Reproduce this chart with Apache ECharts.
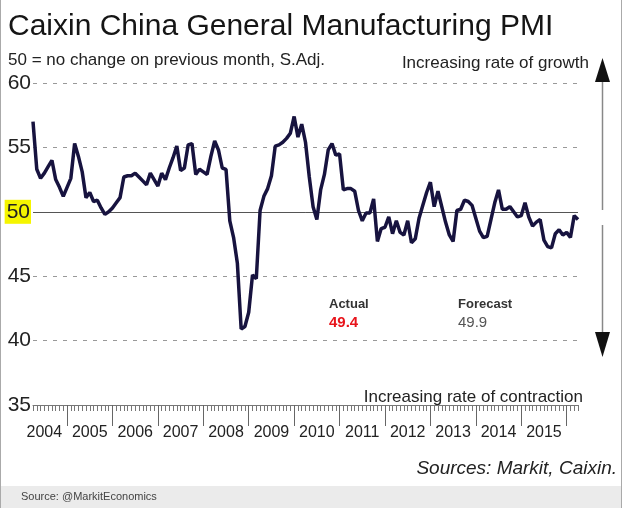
<!DOCTYPE html>
<html><head><meta charset="utf-8">
<script src="https://cdn.jsdelivr.net/npm/echarts@6/dist/echarts.min.js"></script>
<style>html,body{margin:0;padding:0;background:#fff}#c{width:623px;height:508px}</style>
</head><body><div id="c"></div>
<script>
// PMI values by year (2004 starts in April, 2016 ends in April)
const pmi2004 = [57.0, 53.3, 52.6, 53.0, 53.5, 54.0, 52.5, 51.9, 51.2];
const pmi2005 = [51.9, 52.6, 55.3, 54.3, 53.1, 51.1, 51.5, 50.8, 50.9, 50.3, 49.8, 50.0];
const pmi2006 = [50.3, 50.7, 51.1, 52.7, 52.8, 52.8, 53.0, 52.7, 52.4, 52.1, 53.0, 52.5];
const pmi2007 = [52.0, 53.0, 52.5, 53.4, 54.2, 55.1, 53.2, 53.4, 55.2, 55.3, 52.9, 53.3];
const pmi2008 = [53.1, 52.9, 54.3, 55.5, 54.8, 53.4, 53.3, 49.3, 48.0, 46.0, 40.9, 41.1];
const pmi2009 = [42.2, 45.1, 44.8, 50.1, 51.2, 51.8, 52.8, 55.1, 55.2, 55.4, 55.7, 56.1];
const pmi2010 = [57.4, 55.8, 56.8, 55.4, 52.7, 50.4, 49.4, 51.7, 52.9, 54.8, 55.3, 54.4];
const pmi2011 = [54.5, 51.7, 51.8, 51.8, 51.6, 50.1, 49.3, 49.9, 49.9, 51.0, 47.7, 48.7];
const pmi2012 = [48.8, 49.6, 48.3, 49.3, 48.4, 48.2, 49.3, 47.6, 47.9, 49.5, 50.5, 51.5];
const pmi2013 = [52.3, 50.4, 51.6, 50.4, 49.2, 48.2, 47.7, 50.1, 50.2, 50.9, 50.8, 50.5];
const pmi2014 = [49.5, 48.5, 48.0, 48.1, 49.4, 50.7, 51.7, 50.2, 50.2, 50.4, 50.0, 49.6];
const pmi2015 = [49.7, 50.7, 49.6, 48.9, 49.2, 49.4, 47.8, 47.3, 47.2, 48.3, 48.6, 48.2];
const pmi2016 = [48.4, 48.0, 49.7, 49.4];

const yTicks = [35, 40, 45, 50, 55, 60];
const yearLabels = ['2004','2005','2006','2007','2008','2009','2010','2011','2012','2013','2014','2015'];
const actualValue = '49.4';
const forecastValue = '49.9';

const values = [].concat(pmi2004, pmi2005, pmi2006, pmi2007, pmi2008, pmi2009, pmi2010,
  pmi2011, pmi2012, pmi2013, pmi2014, pmi2015, pmi2016);
const months = [];
{
  let y = 2004, m = 4;
  for (let i = 0; i < values.length; i++) {
    months.push(y + '-' + (m < 10 ? '0' + m : m));
    m++; if (m > 12) { m = 1; y++; }
  }
}

const FONT = '"Liberation Sans", Arial, Helvetica, sans-serif';
const chart = echarts.init(document.getElementById('c'), null, {renderer: 'canvas'});
chart.setOption({
  backgroundColor: '#ffffff',
  animation: false,
  textStyle: {fontFamily: FONT},
  grid: {left: 33, right: 45, top: 83, bottom: 103, containLabel: false, outerBoundsMode: 'none'},
  xAxis: [
    {
      type: 'category', data: months, boundaryGap: false,
      axisLine: {show: true, lineStyle: {color: '#777', width: 1}},
      axisTick: {show: true, interval: 0, length: 6, lineStyle: {color: '#777', width: 1}},
      axisLabel: {show: false}, splitLine: {show: false}
    },
    {
      type: 'category', data: months, boundaryGap: false, position: 'bottom',
      axisLine: {show: false},
      axisTick: {show: true, length: 21, interval: (i, v) => v.endsWith('-01'), lineStyle: {color: '#666', width: 1}},
      axisLabel: {
        show: true, interval: (i, v) => v.endsWith('-07') && yearLabels.includes(v.slice(0, 4)),
        formatter: v => v.slice(0, 4), fontSize: 16, color: '#222', margin: 20, fontFamily: FONT
      },
      splitLine: {show: false}
    }
  ],
  yAxis: {
    type: 'value', min: yTicks[0], max: yTicks[yTicks.length - 1], interval: 5,
    axisLine: {show: false}, axisTick: {show: false},
    axisLabel: {
      fontSize: 21, color: '#222', margin: 2, fontFamily: FONT,
      formatter: v => v === 50 ? '{hl|50}' : String(v),
      rich: {hl: {backgroundColor: '#f5f500', fontSize: 21, color: '#222', padding: [2, 1, 1, 2], fontFamily: FONT}}
    },
    splitLine: {show: true, lineStyle: {type: [4, 6], color: '#999', width: 1}}
  },
  series: [{
    type: 'line', data: values, xAxisIndex: 0, showSymbol: false, symbol: 'none',
    lineStyle: {color: '#17133f', width: 3.5}, z: 5,
    markLine: {
      silent: true, symbol: 'none', label: {show: false},
      lineStyle: {type: 'solid', color: '#555', width: 1}, data: [{yAxis: 50}], z: 1
    }
  }],
  graphic: [
    {type: 'line', shape: {x1: 0.5, y1: 0, x2: 0.5, y2: 508}, style: {stroke: '#aaa', lineWidth: 1}},
    {type: 'line', shape: {x1: 621.5, y1: 0, x2: 621.5, y2: 508}, style: {stroke: '#aaa', lineWidth: 1}},
    {type: 'rect', shape: {x: 1, y: 486, width: 620, height: 22}, style: {fill: '#ebebeb'}},
    {type: 'text', x: 21, y: 497, style: {text: 'Source: @MarkitEconomics', font: '11px ' + FONT, fill: '#444', verticalAlign: 'middle'}},
    {type: 'text', x: 8, y: 27, style: {text: 'Caixin China General Manufacturing PMI', font: '30px ' + FONT, fill: '#151515', verticalAlign: 'middle'}},
    {type: 'text', x: 8, y: 60, style: {text: '50 = no change on previous month, S.Adj.', font: '17px ' + FONT, fill: '#222', verticalAlign: 'middle'}},
    {type: 'text', x: 589, y: 63, style: {text: 'Increasing rate of growth', font: '17px ' + FONT, fill: '#222', align: 'right', verticalAlign: 'middle'}},
    {type: 'text', x: 583, y: 397, style: {text: 'Increasing rate of contraction', font: '17px ' + FONT, fill: '#222', align: 'right', verticalAlign: 'middle'}},
    {type: 'text', x: 617, y: 469, style: {text: 'Sources: Markit, Caixin.', font: 'italic 19px ' + FONT, fill: '#222', align: 'right', verticalAlign: 'middle'}},
    {type: 'text', x: 329, y: 304, style: {text: 'Actual', font: 'bold 13px ' + FONT, fill: '#333', verticalAlign: 'middle'}},
    {type: 'text', x: 329, y: 323, style: {text: actualValue, font: 'bold 15px ' + FONT, fill: '#e8141b', verticalAlign: 'middle'}},
    {type: 'text', x: 458, y: 304, style: {text: 'Forecast', font: 'bold 13px ' + FONT, fill: '#333', verticalAlign: 'middle'}},
    {type: 'text', x: 458, y: 323, style: {text: forecastValue, font: '15px ' + FONT, fill: '#555', verticalAlign: 'middle'}},
    {type: 'line', shape: {x1: 602.5, y1: 80, x2: 602.5, y2: 210}, style: {stroke: '#888', lineWidth: 1.5}},
    {type: 'polygon', shape: {points: [[602.5, 58], [595, 82], [610, 82]]}, style: {fill: '#111'}},
    {type: 'line', shape: {x1: 602.5, y1: 225, x2: 602.5, y2: 334}, style: {stroke: '#888', lineWidth: 1.5}},
    {type: 'polygon', shape: {points: [[595, 332], [610, 332], [602.5, 357]]}, style: {fill: '#111'}}
  ]
});
</script>
</body></html>
